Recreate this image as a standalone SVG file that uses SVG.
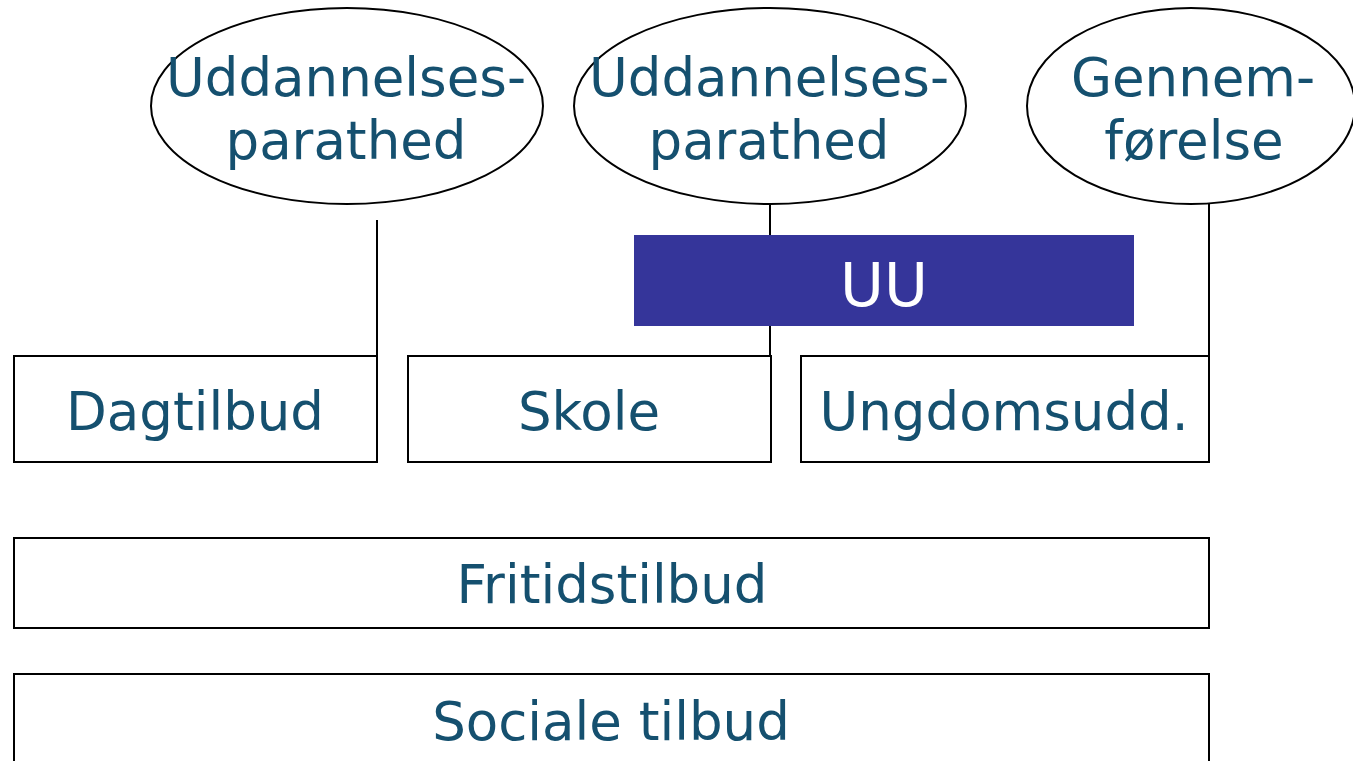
<svg xmlns="http://www.w3.org/2000/svg" width="1353" height="761" viewBox="0 0 1353 761">
<style>
.sh{fill:#fff;stroke:#000;stroke-width:2}
.t{font-family:"DejaVu Sans","Verdana",sans-serif;font-size:53px;fill:#15506f;text-anchor:middle}
.c{stroke:#000;stroke-width:2;fill:none}
</style>
<rect width="1353" height="761" fill="#fff"/>
<g id="connectors">
<line class="c" x1="377" y1="220" x2="377" y2="356"/>
<line class="c" x1="770" y1="204" x2="770" y2="356"/>
<line class="c" x1="1209" y1="204" x2="1209" y2="356"/>
</g>
<g id="ell1"><ellipse class="sh" cx="347" cy="106" rx="196" ry="98"/>
<text class="t" x="346" y="96">Uddannelses-</text><text class="t" x="346" y="159">parathed</text></g>
<g id="ell2"><ellipse class="sh" cx="770" cy="106" rx="196" ry="98"/>
<text class="t" x="769" y="96">Uddannelses-</text><text class="t" x="769" y="159">parathed</text></g>
<g id="ell3"><ellipse class="sh" cx="1191" cy="106" rx="164" ry="98"/>
<text class="t" x="1193" y="96">Gennem-</text><text class="t" x="1194" y="159">førelse</text></g>
<g id="uu"><rect x="634" y="235" width="500" height="91" fill="#35359a"/>
<text class="t" x="884" y="306" style="fill:#fff;font-size:60px">UU</text></g>
<g id="dagtilbud"><rect class="sh" x="14" y="356" width="363" height="106"/>
<text class="t" x="195" y="430">Dagtilbud</text></g>
<g id="skole"><rect class="sh" x="408" y="356" width="363" height="106"/>
<text class="t" x="589" y="430">Skole</text></g>
<g id="ungdom"><rect class="sh" x="801" y="356" width="408" height="106"/>
<text class="t" x="1004" y="430">Ungdomsudd.</text></g>
<g id="fritid"><rect class="sh" x="14" y="538" width="1195" height="90"/>
<text class="t" x="612" y="603">Fritidstilbud</text></g>
<g id="sociale"><rect class="sh" x="14" y="674" width="1195" height="110"/>
<text class="t" x="611" y="740">Sociale tilbud</text></g>
</svg>
